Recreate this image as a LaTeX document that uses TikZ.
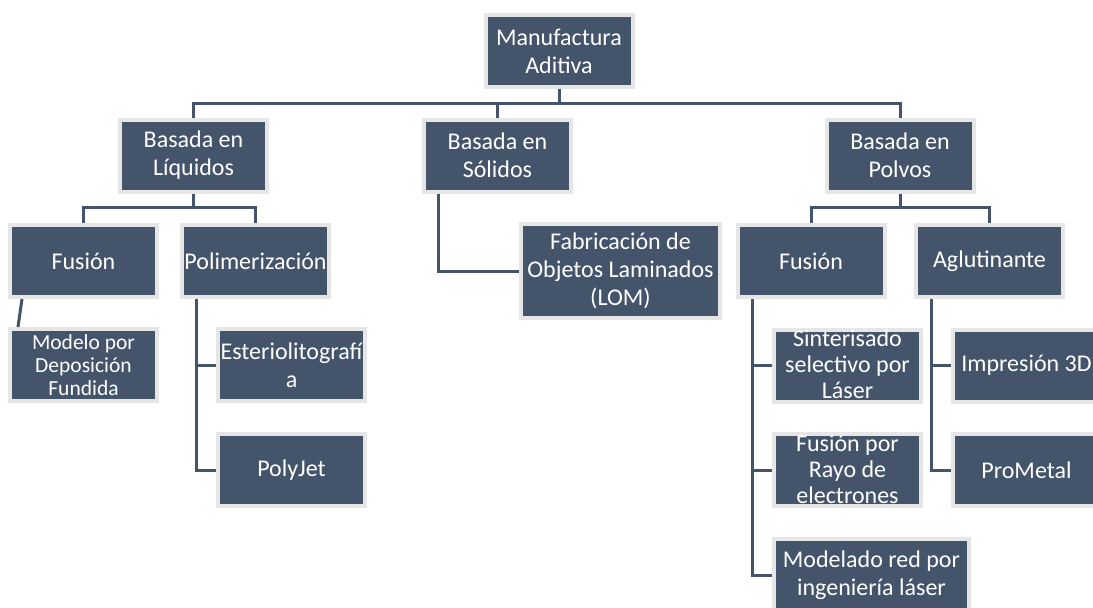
\documentclass[tikz,border=0pt]{standalone}
\usepackage{fontspec}
\setmainfont{Carlito}
\usepackage{tikz}

\definecolor{slate}{HTML}{44546A}
\definecolor{rim}{HTML}{E7E6E6}

\begin{document}
\begin{tikzpicture}[x=1pt,y=-1pt]
        \tikzstyle{every node} = [rectangle,draw=rim,fill=slate,line width=4pt,
          text=white,align=center,inner xsep=1pt,inner ysep=2pt,minimum width=147pt,minimum height=72pt,
          font=\fontsize{24}{28}\selectfont]
        \tikzstyle{link} = [draw=slate,line width=3pt]
        \tikzstyle{packed} = [text height=66pt,text depth=0pt,font=\fontsize{24}{26}\selectfont]
        \tikzstyle{snug} = [text height=61pt,text depth=0pt,font=\fontsize{21.5}{23}\selectfont]
        \useasboundingbox (0,0) rectangle (1093,608);
        \node (ma) at (559, 51) {Manufactura\\Aditiva};
        \node (bl) at (193.5, 155.5) {Basada en\\Líquidos};
        \node (bs) at (497.5, 155.5) {Basada en\\Sólidos};
        \node (bp) at (900, 155.5) {Basada en\\Polvos};
        \node (fl) at (83.5, 261) {Fusión};
        \node (pl) at (255.5, 261) {Polimerización};
        \node [snug] (md) at (83.5, 365) {Modelo por\\Deposición\\Fundida};
        \node (es) at (291.5, 365) {Esteriolitografí\\a};
        \node (pj) at (291.5, 470) {PolyJet};
        \node [minimum width=199pt,minimum height=94pt] (lom) at (620.5, 271) {Fabricación de\\Objetos Laminados\\(LOM)};
        \node (fp) at (811, 261) {Fusión};
        \node (ag) at (989.5, 261) {Aglutinante};
        \node [packed] (si) at (847.5, 365.5) {Sinterisado\\selectivo por\\Láser};
        \node [packed] (fr) at (847.5, 470) {Fusión por\\Rayo de\\electrones};
        \node [minimum width=195pt] (mr) at (871.5, 575) {Modelado red por\\ingeniería láser};
        \node (im) at (1026.5, 365.5) {Impresión 3D};
        \node (pm) at (1026.5, 470) {ProMetal};
        \draw [link] (ma.south) -- ++(0,14) -| (bl.north);
        \draw [link] (ma.south) -- ++(0,14) -| (bs.north);
        \draw [link] (ma.south) -- ++(0,14) -| (bp.north);
        \draw [link] (bl.south) -- ++(0,14) -| (fl.north);
        \draw [link] (bl.south) -- ++(0,14) -| (pl.north);
        \draw [link] (bp.south) -- ++(0,14) -| (fp.north);
        \draw [link] (bp.south) -- ++(0,14) -| (ag.north);
        \draw [link] ([xshift=14pt]fl.south west) -- ([xshift=10pt]md.north west);
        \draw [link] ([xshift=16pt]pl.south west) |- (es.west);
        \draw [link] ([xshift=16pt]pl.south west) |- (pj.west);
        \draw [link] ([xshift=16pt]bs.south west) |- (lom.west);
        \draw [link] ([xshift=17pt]fp.south west) |- (si.west);
        \draw [link] ([xshift=17pt]fp.south west) |- (fr.west);
        \draw [link] ([xshift=17pt]fp.south west) |- (mr.west);
        \draw [link] ([xshift=17pt]ag.south west) |- (im.west);
        \draw [link] ([xshift=17pt]ag.south west) |- (pm.west);
      \end{tikzpicture}
\end{document}
